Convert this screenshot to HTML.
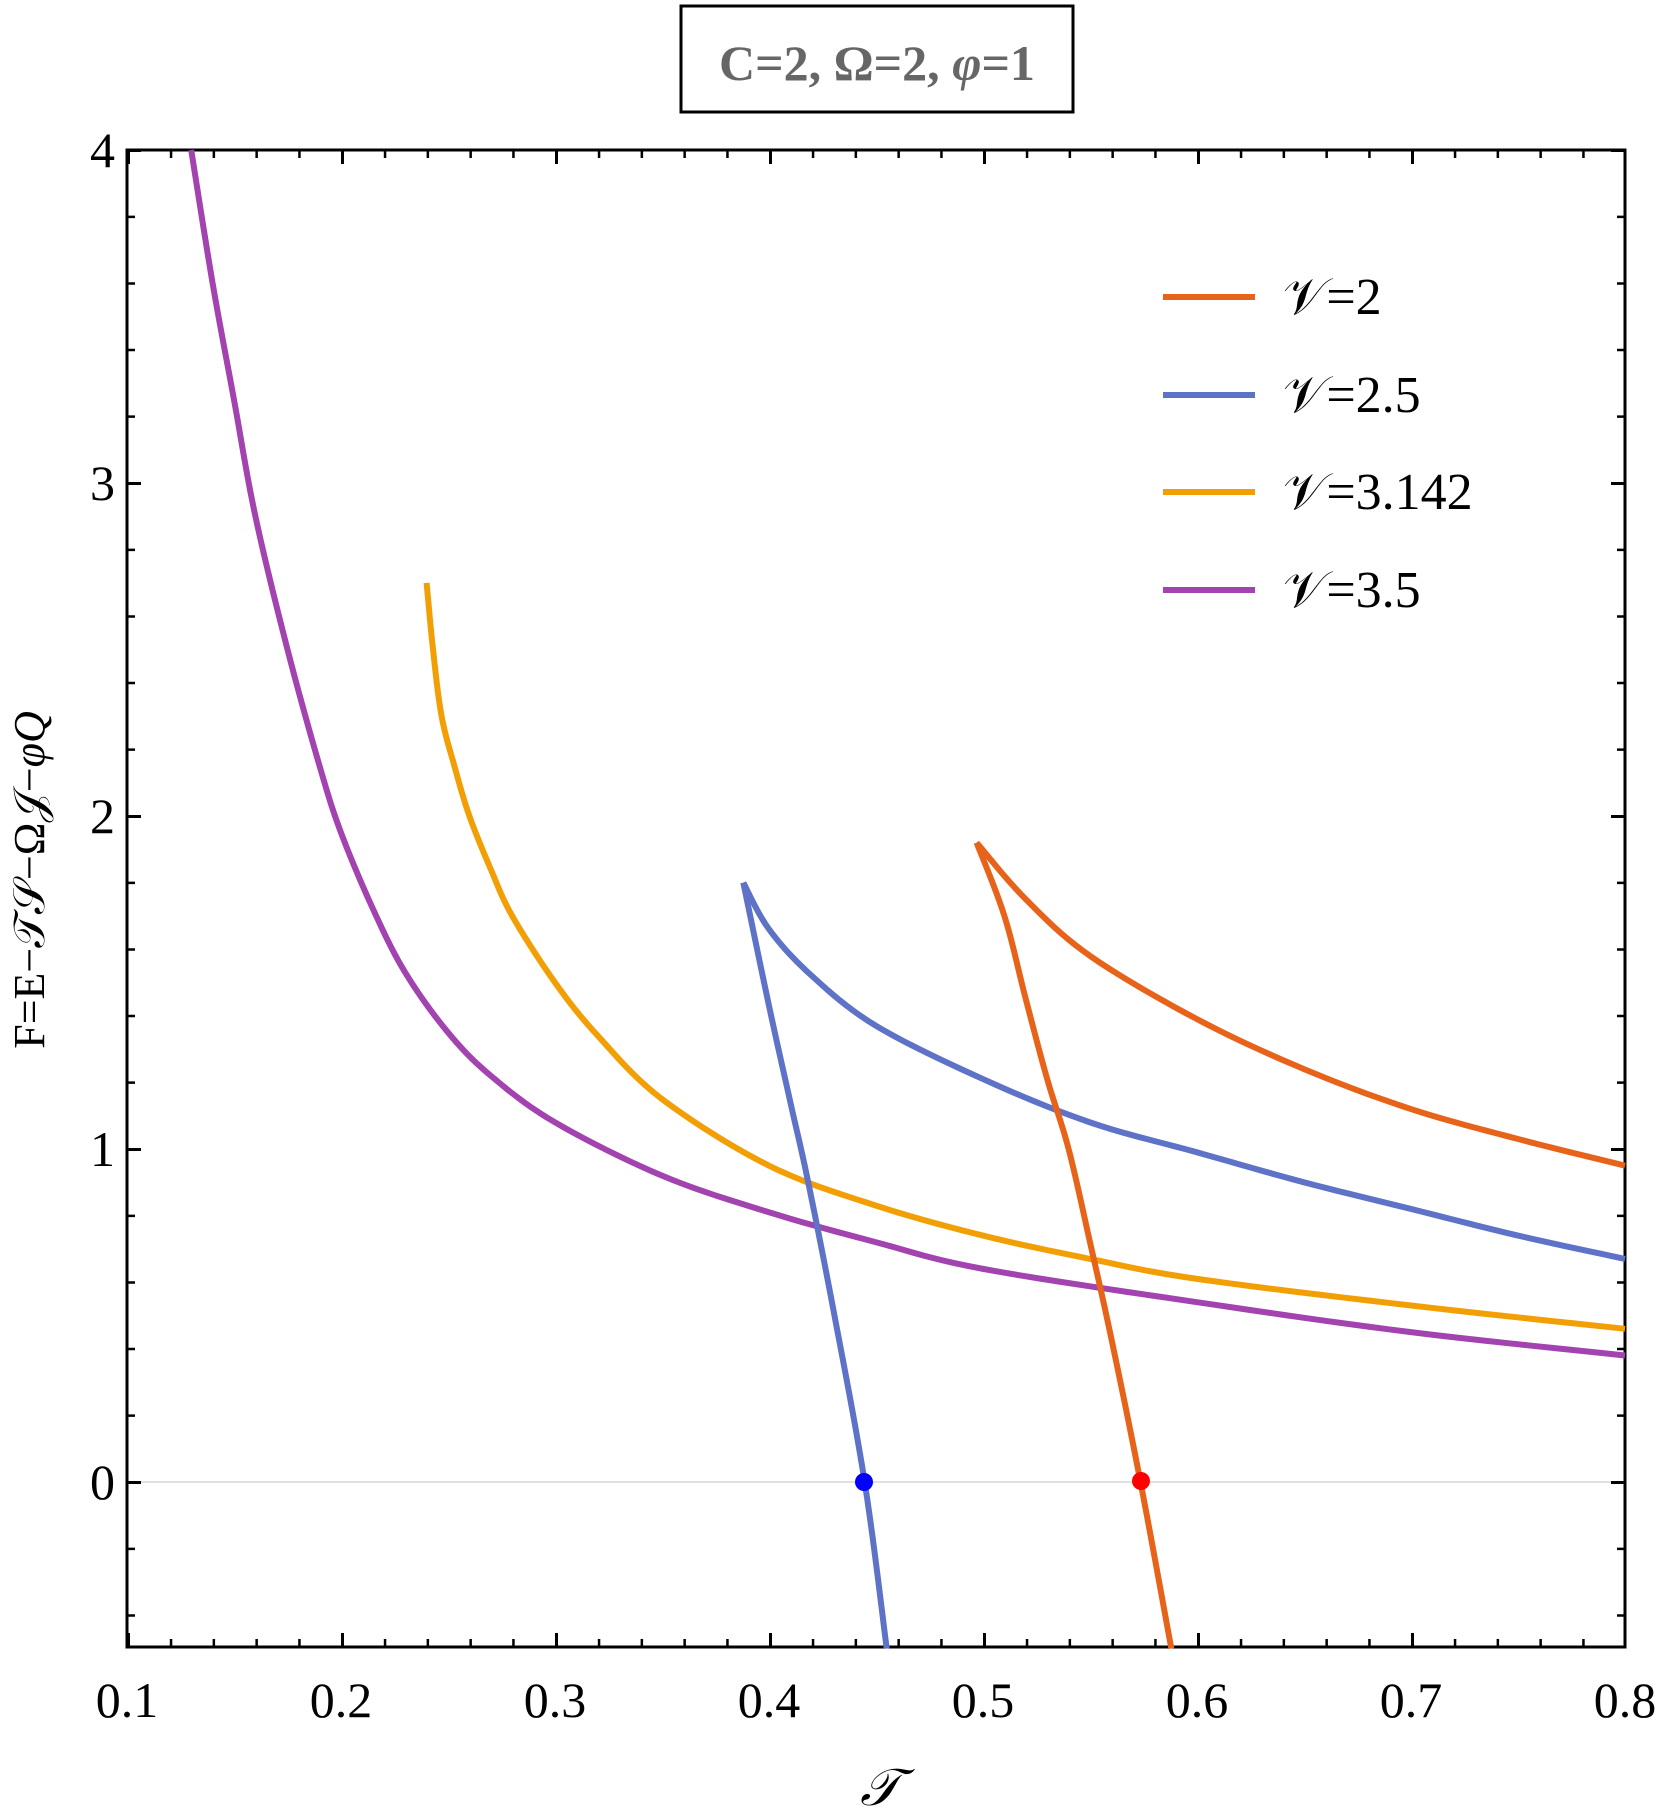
<!DOCTYPE html>
<html><head><meta charset="utf-8"><style>
html,body{margin:0;padding:0;background:#fff;}
svg{display:block;}
text{font-family:"Liberation Serif","DejaVu Serif",serif;}
</style></head><body>
<svg width="1661" height="1810" viewBox="0 0 1661 1810" xmlns="http://www.w3.org/2000/svg">
<rect width="1661" height="1810" fill="#fff"/>
<rect x="681" y="6" width="392" height="106" fill="#fff" stroke="#000" stroke-width="3"/>
<text x="877" y="80" text-anchor="middle" font-size="50" font-weight="bold" fill="#666">C=2, Ω=2, <tspan font-style="italic">φ</tspan>=1</text>
<line x1="127" y1="1482" x2="1625" y2="1482" stroke="#e0e0e0" stroke-width="2"/>
<rect x="127" y="150" width="1498" height="1497" fill="none" stroke="#000" stroke-width="3"/>
<line x1="127" y1="1643" x2="1626" y2="1643" stroke="#000" stroke-width="8" stroke-dasharray="2.5 40.3"/>
<line x1="127" y1="1640" x2="1626" y2="1640" stroke="#000" stroke-width="14" stroke-dasharray="3 211"/>
<line x1="127" y1="154" x2="1626" y2="154" stroke="#000" stroke-width="8" stroke-dasharray="2.5 40.3"/>
<line x1="127" y1="157" x2="1626" y2="157" stroke="#000" stroke-width="14" stroke-dasharray="3 211"/>
<line x1="131" y1="149" x2="131" y2="1648" stroke="#000" stroke-width="8" stroke-dasharray="2.5 64.1"/>
<line x1="134" y1="149" x2="134" y2="1648" stroke="#000" stroke-width="14" stroke-dasharray="3 330"/>
<line x1="1621" y1="149" x2="1621" y2="1648" stroke="#000" stroke-width="8" stroke-dasharray="2.5 64.1"/>
<line x1="1618" y1="149" x2="1618" y2="1648" stroke="#000" stroke-width="14" stroke-dasharray="3 330"/>
<g font-size="50" fill="#000" text-anchor="middle">
<text x="127" y="1717">0.1</text><text x="341" y="1717">0.2</text><text x="555" y="1717">0.3</text>
<text x="769" y="1717">0.4</text><text x="983" y="1717">0.5</text><text x="1197" y="1717">0.6</text>
<text x="1411" y="1717">0.7</text><text x="1625" y="1717">0.8</text>
</g>
<g font-size="50" fill="#000" text-anchor="end">
<text x="115" y="1499">0</text><text x="115" y="1166">1</text><text x="115" y="833">2</text>
<text x="115" y="500">3</text><text x="115" y="167">4</text>
</g>
<text x="880" y="1805" font-size="52" font-style="italic" text-anchor="middle">𝒯</text>
<text transform="translate(44,880) rotate(-90)" font-size="44" text-anchor="middle">F=E−𝒯𝒮−Ω𝒥−<tspan font-style="italic">φQ</tspan></text>
<g transform="translate(127,1482) scale(2140,-333)" fill="none" stroke-width="6" stroke-linejoin="round">
<polyline class="c" vector-effect="non-scaling-stroke" stroke="#a243b0" points="0.03,4 0.04,3.6 0.05,3.25 0.06,2.9 0.075,2.5 0.09,2.15 0.1,1.95 0.115,1.72 0.13,1.53 0.15,1.35 0.17,1.22 0.2,1.08 0.25,0.92 0.3,0.81 0.35,0.72 0.4,0.64 0.5,0.54 0.6,0.45 0.7,0.38"/>
<polyline class="c" vector-effect="non-scaling-stroke" stroke="#f29f05" points="0.14,2.7 0.143,2.5 0.147,2.3 0.153,2.15 0.16,2.0 0.17,1.84 0.18,1.7 0.2,1.5 0.22,1.34 0.25,1.15 0.3,0.95 0.35,0.83 0.4,0.74 0.45,0.67 0.5,0.61 0.6,0.53 0.7,0.46"/>
<polyline class="c" vector-effect="non-scaling-stroke" stroke="#5e72c8" points="0.288,1.8 0.3,1.66 0.32,1.52 0.35,1.37 0.4,1.21 0.45,1.08 0.5,0.99 0.55,0.9 0.6,0.82 0.65,0.74 0.7,0.67"/>
<polyline class="c" vector-effect="non-scaling-stroke" stroke="#5e72c8" points="0.288,1.8 0.3,1.43 0.31,1.14 0.318,0.91 0.33,0.52 0.3447,0 0.355,-0.5"/>
<polyline class="c" vector-effect="non-scaling-stroke" stroke="#e8631a" points="0.397,1.92 0.42,1.75 0.45,1.58 0.5,1.39 0.55,1.24 0.6,1.12 0.65,1.03 0.7,0.95"/>
<polyline class="c" vector-effect="non-scaling-stroke" stroke="#e8631a" points="0.397,1.92 0.41,1.7 0.42,1.45 0.43,1.21 0.44,1.0 0.45,0.72 0.46,0.43 0.4736,0 0.488,-0.5"/>
</g>
<circle cx="864" cy="1482" r="9" fill="#0000ff"/>
<circle cx="1141" cy="1481" r="9" fill="#ff0000"/>
<g stroke-width="6">
<line x1="1163" y1="297" x2="1255" y2="297" stroke="#e8631a"/>
<line x1="1163" y1="395" x2="1255" y2="395" stroke="#5e72c8"/>
<line x1="1163" y1="492" x2="1255" y2="492" stroke="#f29f05"/>
<line x1="1163" y1="590" x2="1255" y2="590" stroke="#a243b0"/>
</g>
<g font-size="52" fill="#000">
<text x="1283" y="314">𝒱=2</text>
<text x="1283" y="412">𝒱=2.5</text>
<text x="1283" y="509">𝒱=3.142</text>
<text x="1283" y="607">𝒱=3.5</text>
</g>
</svg>
<script>
(function(){
try{
document.querySelectorAll('polyline.c').forEach(function(pl){
var pts=pl.getAttribute('points').trim().split(/\s+/).map(function(s){var a=s.split(',');return [+a[0],+a[1]];});
// convert to pixel space for sampling uniformity
var P=pts.map(function(p){return [p[0]*2140,p[1]*333];});
var out=[];
for(var i=0;i<P.length-1;i++){
var p0=P[Math.max(0,i-1)],p1=P[i],p2=P[i+1],p3=P[Math.min(P.length-1,i+2)];
for(var t=0;t<1;t+=0.1){
var t2=t*t,t3=t2*t;
var x=0.5*((2*p1[0])+(-p0[0]+p2[0])*t+(2*p0[0]-5*p1[0]+4*p2[0]-p3[0])*t2+(-p0[0]+3*p1[0]-3*p2[0]+p3[0])*t3);
var y=0.5*((2*p1[1])+(-p0[1]+p2[1])*t+(2*p0[1]-5*p1[1]+4*p2[1]-p3[1])*t2+(-p0[1]+3*p1[1]-3*p2[1]+p3[1])*t3);
out.push((x/2140).toFixed(5)+','+(y/333).toFixed(5));
}
}
out.push(pts[pts.length-1].join(','));
pl.setAttribute('points',out.join(' '));
});
}catch(e){}
})();
</script>
</body></html>
